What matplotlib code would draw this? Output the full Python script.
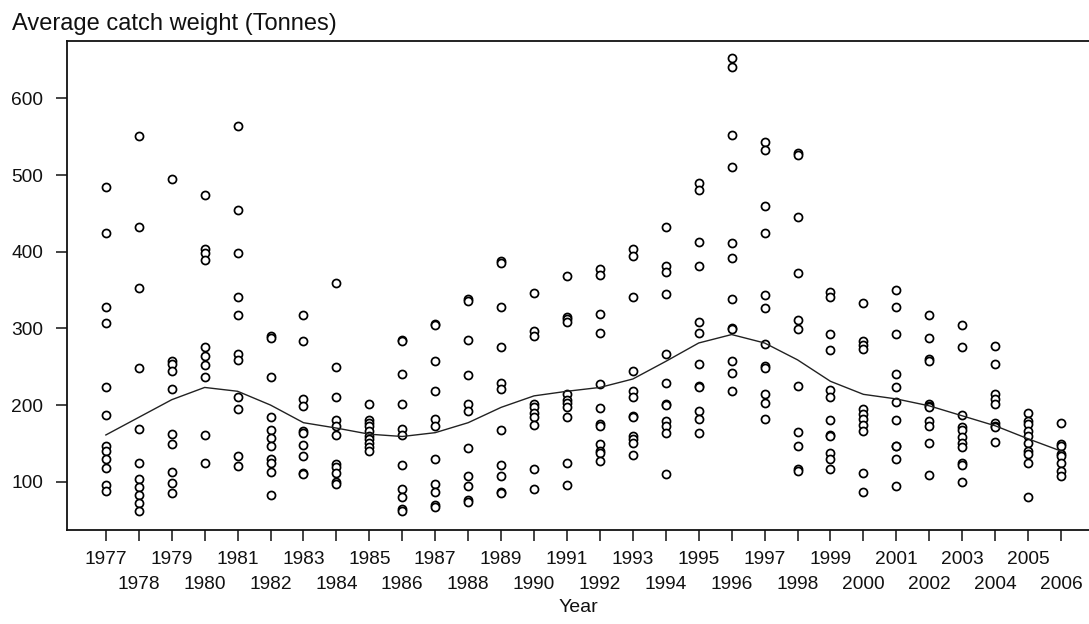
import matplotlib
matplotlib.use('Agg')
import matplotlib.pyplot as plt

# Values (tonnes), one list per year
years = list(range(1977, 2007))
catch = [
    [484, 424, 328, 307, 224, 187, 147, 140, 130, 118, 96, 88],          # 1977
    [551, 432, 353, 248, 169, 124, 104, 93, 83, 72, 62],                 # 1978
    [495, 258, 253, 245, 221, 162, 149, 113, 98, 85],                    # 1979
    [474, 404, 398, 389, 276, 264, 252, 237, 161, 124],                  # 1980
    [564, 455, 398, 341, 318, 266, 259, 210, 195, 134, 121],             # 1981
    [290, 288, 237, 185, 168, 157, 146, 130, 124, 113, 83],              # 1982
    [318, 283, 208, 199, 166, 164, 148, 134, 112, 110],                  # 1983
    [359, 250, 211, 181, 173, 161, 123, 119, 112, 99, 97],               # 1984
    [201, 181, 177, 173, 166, 160, 156, 150, 145, 140],                  # 1985
    [285, 284, 241, 201, 169, 161, 122, 91, 80, 65, 62],                 # 1986
    [306, 305, 258, 218, 182, 173, 130, 97, 86, 69, 67],                 # 1987
    [338, 336, 285, 239, 201, 192, 144, 107, 95, 76, 74],                # 1988
    [388, 386, 328, 276, 229, 221, 167, 122, 108, 87, 85],               # 1989
    [346, 296, 290, 201, 197, 190, 184, 174, 117, 91],                   # 1990
    [368, 315, 312, 309, 214, 206, 203, 197, 184, 124, 96],              # 1991
    [377, 370, 319, 294, 227, 196, 175, 173, 149, 140, 137, 127],        # 1992
    [404, 394, 341, 244, 218, 211, 186, 184, 159, 156, 150, 135],        # 1993
    [432, 381, 374, 345, 266, 229, 202, 200, 179, 173, 164, 110],        # 1994
    [490, 481, 413, 382, 309, 294, 253, 225, 223, 192, 182, 164],        # 1995
    [653, 641, 552, 510, 412, 392, 338, 301, 299, 257, 242, 218],        # 1996
    [543, 533, 460, 425, 343, 327, 280, 251, 249, 214, 203, 182],        # 1997
    [529, 526, 445, 372, 311, 299, 225, 165, 146, 117, 114],             # 1998
    [348, 341, 293, 272, 220, 210, 181, 161, 159, 137, 130, 117],        # 1999
    [333, 283, 278, 273, 195, 188, 182, 174, 166, 111, 86],              # 2000
    [350, 328, 293, 241, 223, 204, 180, 147, 146, 129, 95],              # 2001
    [318, 287, 260, 258, 201, 199, 197, 179, 173, 150, 109],             # 2002
    [304, 276, 187, 171, 168, 158, 150, 145, 125, 122, 100],             # 2003
    [277, 254, 214, 208, 202, 177, 173, 171, 152],                       # 2004
    [190, 179, 175, 166, 160, 151, 140, 136, 125, 80],                   # 2005
    [177, 149, 147, 136, 134, 125, 114, 108],                            # 2006
]
# smoothed trend line
smooth = [161, 184, 207, 223, 218, 200, 177, 170, 162, 159, 164, 177, 197, 212, 218,
          223, 234, 257, 281, 292, 281, 259, 231, 214, 208, 199, 186, 173, 156, 140]
yticks = [100, 200, 300, 400, 500, 600]

plt.rcParams['font.family'] = ['Liberation Sans', 'DejaVu Sans']

fig = plt.figure(figsize=(10.89, 6.24), dpi=100)
ax = fig.add_axes([67 / 1089, 94 / 624, 1 - 67 / 1089, 489 / 624])

xs = []
ys = []
for yr, vals in zip(years, catch):
    xs += [yr] * len(vals)
    ys += vals
ax.plot(xs, ys, 'o', ms=5.8, mfc='white', mec='black', mew=1.25, ls='none')
ax.plot(years, smooth, color='#222222', lw=1.0)

ax.set_xlim(1975.82, 2006.85)
ax.set_ylim(37, 675)
# odd years on the first label row, even years staggered below
odd = [y for y in years if y % 2]
even = [y for y in years if y % 2 == 0]
ax.set_xticks(odd)
ax.set_xticklabels([str(y) for y in odd])
ax.set_xticks(even, minor=True)
ax.set_xticklabels([str(y) for y in even], minor=True)
ax.set_yticks(yticks)
ax.tick_params(axis='both', which='both', direction='out', length=8, width=1.1,
               labelsize=13.8, colors='#111111')
ax.tick_params(axis='x', which='major', pad=7)
ax.tick_params(axis='x', which='minor', pad=25)
ax.tick_params(axis='y', pad=9)
for s in ['left', 'bottom', 'top']:
    ax.spines[s].set_linewidth(1.3)
    ax.spines[s].set_color('#111111')
ax.spines['right'].set_visible(False)

fig.text(12 / 1089, 1 - 24 / 624, 'Average catch weight (Tonnes)', fontsize=17,
         va='center', ha='left', color='#111111')
fig.text(578 / 1089, 1 - 607 / 624, 'Year', fontsize=14, va='center', ha='center',
         color='#111111')

plt.savefig('out.png', dpi=100)
